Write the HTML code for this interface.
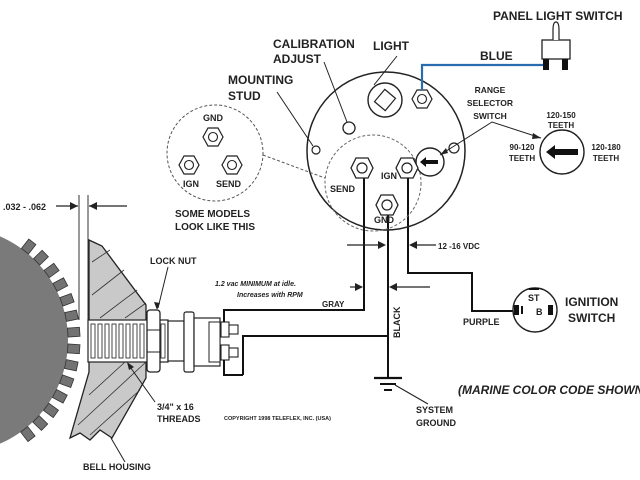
<!DOCTYPE html>
<html><head><meta charset="utf-8"><style>
html,body{margin:0;padding:0;background:#fff}
svg{display:block}
text{font-family:"Liberation Sans",Arial,sans-serif;font-weight:bold;fill:#222}
</style></head><body>
<svg width="640" height="480" viewBox="0 0 640 480" xmlns="http://www.w3.org/2000/svg">
<defs>
<g id="hex"><polygon points="-6,-10 6,-10 11,0 6,10 -6,10 -11,0" fill="#fff" stroke="#222" stroke-width="1.3"/><circle r="5" fill="none" stroke="#222" stroke-width="1.2"/></g>
<g id="hexs"><polygon points="-5,-9 5,-9 10,0 5,9 -5,9 -10,0" fill="#fff" stroke="#222" stroke-width="1.2"/><circle r="4.5" fill="none" stroke="#222" stroke-width="1.1"/></g>
</defs>

<!-- gear -->
<g transform="translate(-45,340)">
<circle r="113" fill="#7a7a7a"/>
<g fill="#727272" stroke="#333" stroke-width="0.8">
<rect x="113" y="-4" width="12" height="9" transform="rotate(-52)"/>
<rect x="113" y="-4" width="12" height="9" transform="rotate(-44)"/>
<rect x="113" y="-4" width="12" height="9" transform="rotate(-36)"/>
<rect x="113" y="-4" width="12" height="9" transform="rotate(-28)"/>
<rect x="113" y="-4" width="12" height="9" transform="rotate(-20)"/>
<rect x="113" y="-4" width="12" height="9" transform="rotate(-12)"/>
<rect x="113" y="-4" width="12" height="9" transform="rotate(-4)"/>
<rect x="113" y="-4" width="12" height="9" transform="rotate(4)"/>
<rect x="113" y="-4" width="12" height="9" transform="rotate(12)"/>
<rect x="113" y="-4" width="12" height="9" transform="rotate(20)"/>
<rect x="113" y="-4" width="12" height="9" transform="rotate(28)"/>
<rect x="113" y="-4" width="12" height="9" transform="rotate(36)"/>
<rect x="113" y="-4" width="12" height="9" transform="rotate(44)"/>
<rect x="113" y="-4" width="12" height="9" transform="rotate(52)"/>
</g>
</g>

<!-- gap dims -->
<line x1="79" y1="195" x2="79" y2="320" stroke="#333" stroke-width="1"/>
<line x1="88" y1="195" x2="88" y2="320" stroke="#333" stroke-width="1"/>
<line x1="56" y1="206" x2="78" y2="206" stroke="#222" stroke-width="1.2"/>
<polygon points="78,206 70,202 70,210" fill="#222"/>
<line x1="89" y1="206" x2="127" y2="206" stroke="#222" stroke-width="1.2"/>
<polygon points="89,206 97,202 97,210" fill="#222"/>
<text x="3" y="210" font-size="9">.032 - .062</text>

<!-- bell housing -->
<polygon points="89,240 102,246 146,305 146,378 112,438 100,430 90,440 80,433 70,438 89,372 89,318" fill="#c9c9c9" stroke="#222" stroke-width="1.3"/>
<g stroke="#333" stroke-width="0.8">
<line x1="92" y1="262" x2="110" y2="250"/>
<line x1="92" y1="295" x2="124" y2="270"/>
<line x1="100" y1="318" x2="137" y2="290"/>
<line x1="125" y1="318" x2="146" y2="303"/>
<line x1="89" y1="395" x2="125" y2="362"/>
<line x1="78" y1="425" x2="146" y2="362"/>
<line x1="90" y1="435" x2="140" y2="390"/>
</g>
<!-- threads -->
<rect x="88" y="320" width="80" height="42" fill="#fff" stroke="#222" stroke-width="1.2"/>
<g fill="none" stroke="#333" stroke-width="0.9">
<rect x="91" y="324" width="4" height="34"/><rect x="98" y="324" width="4" height="34"/><rect x="105" y="324" width="4" height="34"/><rect x="112" y="324" width="4" height="34"/><rect x="119" y="324" width="4" height="34"/><rect x="126" y="324" width="4" height="34"/><rect x="133" y="324" width="4" height="34"/><rect x="140" y="324" width="4" height="34"/><rect x="161" y="324" width="4" height="34"/>
</g>
<!-- lock nut -->
<rect x="147" y="310" width="13" height="62" rx="3" fill="#fff" stroke="#222" stroke-width="1.3"/>
<line x1="147" y1="330" x2="160" y2="330" stroke="#222"/><line x1="147" y1="352" x2="160" y2="352" stroke="#222"/>
<!-- sensor body -->
<rect x="168" y="321" width="16" height="40" fill="#fff" stroke="#222" stroke-width="1.2"/>
<rect x="184" y="312" width="10" height="60" rx="2" fill="#fff" stroke="#222" stroke-width="1.2"/>
<rect x="194" y="318" width="26" height="48" fill="#fff" stroke="#222" stroke-width="1.2"/>
<rect x="209" y="322" width="11" height="40" fill="#fff" stroke="#222" stroke-width="1"/>
<!-- terminals -->
<g fill="#fff" stroke="#222" stroke-width="1.1">
<rect x="221" y="322" width="8" height="15"/><rect x="229" y="325" width="9" height="9"/>
<rect x="221" y="345" width="8" height="15"/><rect x="229" y="348" width="9" height="9"/>
</g>

<!-- wires -->
<g fill="none" stroke="#111" stroke-width="2">
<polyline points="224,322 224,310 364,310 364,178"/>
<polyline points="243,375 224,375 224,360"/>
<polyline points="243,375 243,336 388,336"/>
<line x1="388" y1="215" x2="388" y2="377"/>
<polyline points="408,178 408,273 472,273 472,311 515,311"/>
</g>
<!-- ground -->
<line x1="374" y1="378" x2="402" y2="378" stroke="#111" stroke-width="2.2"/>
<line x1="380" y1="384" x2="396" y2="384" stroke="#111" stroke-width="2"/>
<line x1="384" y1="390" x2="392" y2="390" stroke="#111" stroke-width="2"/>
<line x1="395" y1="385" x2="428" y2="404" stroke="#222" stroke-width="1.1"/>

<!-- arrows -->
<g stroke="#222" stroke-width="1.2">
<line x1="347" y1="245" x2="382" y2="245"/><line x1="412" y1="245" x2="436" y2="245"/>
<line x1="350" y1="287" x2="362" y2="287"/><line x1="392" y1="287" x2="430" y2="287"/>
</g>
<polygon points="386,245 378,241 378,249" fill="#222"/>
<polygon points="409,245 417,241 417,249" fill="#222"/>
<polygon points="363,287 355,283 355,291" fill="#222"/>
<polygon points="389,287 397,283 397,291" fill="#222"/>

<!-- main gauge -->
<circle cx="386" cy="151" r="79" fill="none" stroke="#222" stroke-width="1.5"/>
<circle cx="373" cy="183" r="48" fill="none" stroke="#666" stroke-width="1" stroke-dasharray="3,2"/>
<circle cx="385" cy="100" r="17" fill="#fff" stroke="#222" stroke-width="1.4"/>
<rect x="378" y="92" width="14" height="16" fill="none" stroke="#222" stroke-width="1.2" transform="rotate(40 385 100)"/>
<use href="#hexs" x="422" y="99"/>
<circle cx="349" cy="128" r="6" fill="#fff" stroke="#222" stroke-width="1.3"/>
<circle cx="316" cy="150" r="4" fill="#fff" stroke="#222" stroke-width="1.2"/>
<circle cx="454" cy="148" r="5" fill="#fff" stroke="#222" stroke-width="1.2"/>
<circle cx="430" cy="162" r="14" fill="#fff" stroke="#222" stroke-width="1.4"/>
<polygon points="420,162 426,157 426,160 438,160 438,164 426,164 426,167" fill="#111"/>
<use href="#hex" x="362" y="168"/>
<use href="#hex" x="407" y="168"/>
<use href="#hex" x="387" y="205"/>
<text x="330" y="192" font-size="9">SEND</text>
<text x="381" y="179" font-size="9">IGN</text>
<text x="374" y="223" font-size="9">GND</text>

<!-- blue wire + switch -->
<polyline points="422,90 422,65 545,65" fill="none" stroke="#2a6cb0" stroke-width="2.2"/>
<rect x="542" y="40" width="28" height="19" fill="#fff" stroke="#222" stroke-width="1.3"/>
<path d="M553,40 L553,30 Q553,22 556,22 Q559,22 559,30 L559,40" fill="#fff" stroke="#222" stroke-width="1.2"/>
<rect x="543" y="59" width="6" height="11" fill="#111"/>
<rect x="562" y="59" width="6" height="11" fill="#111"/>
<text x="493" y="20" font-size="12">PANEL LIGHT SWITCH</text>
<text x="480" y="60" font-size="12">BLUE</text>

<!-- range selector -->
<circle cx="562" cy="152" r="22" fill="#fff" stroke="#222" stroke-width="1.4"/>
<polygon points="546,152 555,145 555,149 578,149 578,155 555,155 555,159" fill="#111"/>
<text x="490" y="93" font-size="8.5" text-anchor="middle" fill="#333">RANGE</text>
<text x="490" y="106" font-size="8.5" text-anchor="middle" fill="#333">SELECTOR</text>
<text x="490" y="119" font-size="8.5" text-anchor="middle" fill="#333">SWITCH</text>
<polyline points="440,155 492,122 541,138" fill="none" stroke="#222" stroke-width="1"/>
<polygon points="440,155 446,148 448,153" fill="#222"/>
<polygon points="541,138 533,133 532,139" fill="#222"/>
<text x="561" y="118" font-size="8" text-anchor="middle">120-150</text>
<text x="561" y="128" font-size="8" text-anchor="middle">TEETH</text>
<text x="522" y="150" font-size="8" text-anchor="middle">90-120</text>
<text x="522" y="161" font-size="8" text-anchor="middle">TEETH</text>
<text x="606" y="150" font-size="8" text-anchor="middle">120-180</text>
<text x="606" y="161" font-size="8" text-anchor="middle">TEETH</text>

<!-- labels top-left -->
<text x="273" y="48" font-size="12">CALIBRATION</text>
<text x="273" y="63" font-size="12">ADJUST</text>
<line x1="324" y1="62" x2="347" y2="122" stroke="#222" stroke-width="1"/>
<text x="373" y="50" font-size="12">LIGHT</text>
<line x1="397" y1="56" x2="374" y2="85" stroke="#222" stroke-width="1"/>
<text x="228" y="84" font-size="12">MOUNTING</text>
<text x="228" y="100" font-size="12">STUD</text>
<line x1="277" y1="92" x2="313" y2="146" stroke="#222" stroke-width="1"/>

<!-- some models -->
<circle cx="215" cy="153" r="48" fill="none" stroke="#555" stroke-width="1" stroke-dasharray="3,2"/>
<line x1="263" y1="155" x2="325" y2="178" stroke="#555" stroke-width="1" stroke-dasharray="3,2"/>
<use href="#hexs" x="213" y="137"/>
<use href="#hexs" x="189" y="165"/>
<use href="#hexs" x="232" y="165"/>
<text x="203" y="121" font-size="9">GND</text>
<text x="183" y="187" font-size="9">IGN</text>
<text x="216" y="187" font-size="9">SEND</text>
<text x="175" y="217" font-size="10">SOME MODELS</text>
<text x="175" y="230" font-size="10">LOOK LIKE THIS</text>

<!-- sensor labels -->
<text x="150" y="264" font-size="9">LOCK NUT</text>
<line x1="168" y1="267" x2="158" y2="308" stroke="#222" stroke-width="1"/>
<polygon points="157,310 154,302 160,303" fill="#222"/>
<text x="157" y="410" font-size="9">3/4" x 16</text>
<text x="157" y="422" font-size="9">THREADS</text>
<line x1="155" y1="402" x2="128" y2="364" stroke="#222" stroke-width="1"/>
<polygon points="127,362 134,367 129,370" fill="#222"/>
<text x="83" y="470" font-size="9">BELL HOUSING</text>
<line x1="125" y1="462" x2="111" y2="438" stroke="#222" stroke-width="1"/>
<text x="224" y="420" font-size="5.5" font-weight="normal">COPYRIGHT 1998 TELEFLEX, INC. (USA)</text>

<!-- wire labels -->
<text x="215" y="286" font-size="7" font-style="italic">1.2 vac MINIMUM at idle.</text>
<text x="237" y="297" font-size="7" font-style="italic">Increases with RPM</text>
<text x="322" y="307" font-size="8">GRAY</text>
<text x="0" y="0" font-size="9" transform="translate(400,338) rotate(-90)">BLACK</text>
<text x="438" y="249" font-size="8">12 -16 VDC</text>
<text x="463" y="325" font-size="9">PURPLE</text>

<!-- ignition switch -->
<circle cx="535" cy="310" r="22" fill="#fff" stroke="#222" stroke-width="1.4"/>
<rect x="514" y="305" width="5" height="10" fill="#111"/>
<rect x="548" y="305" width="5" height="10" fill="#111"/>
<rect x="521" y="306" width="2" height="8" fill="#111"/>
<rect x="529" y="288" width="10" height="2" fill="#111"/>
<text x="528" y="301" font-size="9">ST</text>
<text x="536" y="315" font-size="9">B</text>
<text x="565" y="306" font-size="12">IGNITION</text>
<text x="568" y="322" font-size="12">SWITCH</text>

<text x="458" y="394" font-size="12" font-weight="normal" font-style="italic">(MARINE COLOR CODE SHOWN)</text>
<text x="416" y="413" font-size="9">SYSTEM</text>
<text x="416" y="426" font-size="9">GROUND</text>
</svg>
</body></html>
